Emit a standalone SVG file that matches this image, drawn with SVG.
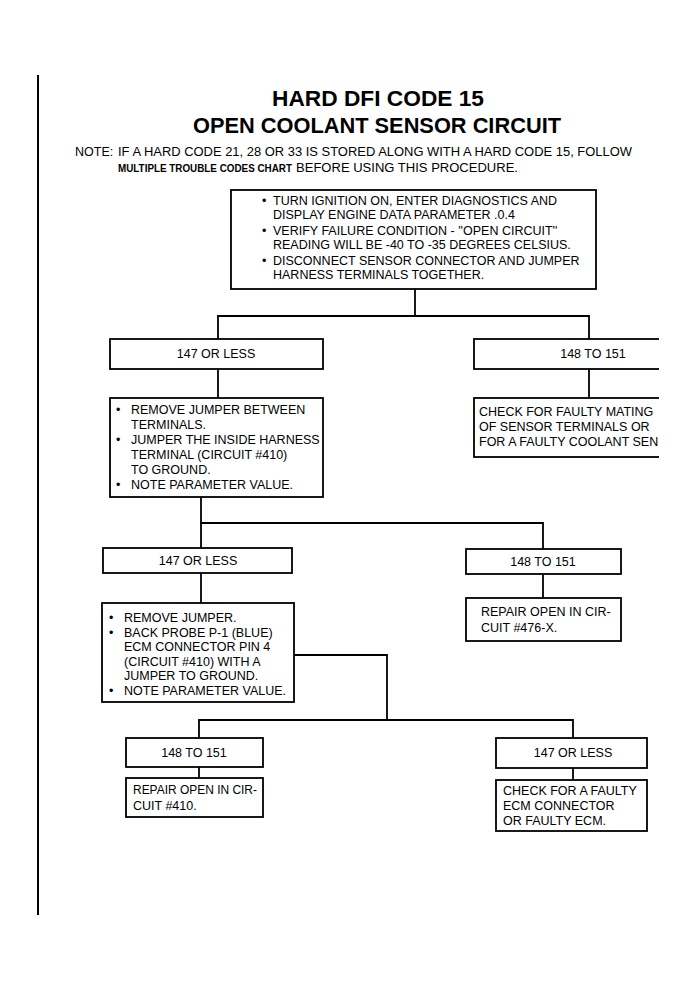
<svg xmlns="http://www.w3.org/2000/svg" width="698" height="992" viewBox="0 0 698 992">
<style>
text{font-family:"Liberation Sans",Arial,sans-serif;fill:#000}
.t{font-size:12.5px}
.c{text-anchor:middle}
.ttl{font-size:22px;font-weight:bold;text-anchor:middle}
.box{fill:#fff;stroke:#000;stroke-width:1.8}
.ln{fill:none;stroke:#000;stroke-width:1.8}
</style>
<defs><clipPath id="pg"><rect x="0" y="0" width="659" height="992"/></clipPath></defs>
<rect width="698" height="992" fill="#fff"/>
<line x1="38" y1="75" x2="38" y2="915" stroke="#000" stroke-width="2"/>
<g id="title">
<text class="ttl" x="378" y="106" textLength="212" lengthAdjust="spacingAndGlyphs">HARD DFI CODE 15</text>
<text class="ttl" x="377" y="133" textLength="368" lengthAdjust="spacingAndGlyphs">OPEN COOLANT SENSOR CIRCUIT</text>
<text class="t" x="75" y="156">NOTE:</text>
<text class="t" x="118" y="156" textLength="514" lengthAdjust="spacingAndGlyphs">IF A HARD CODE 21, 28 OR 33 IS STORED ALONG WITH A HARD CODE 15, FOLLOW</text>
<text x="118" y="172" font-size="10.5px" font-weight="bold" textLength="174" lengthAdjust="spacingAndGlyphs">MULTIPLE TROUBLE CODES CHART</text>
<text class="t" x="296" y="172" textLength="222" lengthAdjust="spacingAndGlyphs">BEFORE USING THIS PROCEDURE.</text>
</g>
<g id="connectors">
<polyline class="ln" points="415,289 415,316"/>
<polyline class="ln" points="218,339 218,316 589,316 589,339"/>
<line class="ln" x1="218" y1="369" x2="218" y2="398"/>
<line class="ln" x1="589" y1="369" x2="589" y2="398"/>
<line class="ln" x1="201" y1="497" x2="201" y2="523"/>
<polyline class="ln" points="201,548 201,523 543,523 543,549"/>
<line class="ln" x1="201" y1="573" x2="201" y2="603"/>
<line class="ln" x1="543" y1="574" x2="543" y2="598"/>
<polyline class="ln" points="294,655 387,655 387,720"/>
<polyline class="ln" points="199,738 199,720 573,720 573,738"/>
<line class="ln" x1="199" y1="767" x2="199" y2="778"/>
<line class="ln" x1="573" y1="768" x2="573" y2="780"/>
</g>
<g id="n1">
<rect class="box" x="231" y="190" width="365" height="99"/>
<text class="t" x="262" y="205">•</text>
<text class="t" x="273" y="205">TURN IGNITION ON, ENTER DIAGNOSTICS AND</text>
<text class="t" x="273" y="219">DISPLAY ENGINE DATA PARAMETER .0.4</text>
<text class="t" x="262" y="235">•</text>
<text class="t" x="273" y="235">VERIFY FAILURE CONDITION - ''OPEN CIRCUIT''</text>
<text class="t" x="273" y="249">READING WILL BE -40 TO -35 DEGREES CELSIUS.</text>
<text class="t" x="262" y="265">•</text>
<text class="t" x="273" y="265">DISCONNECT SENSOR CONNECTOR AND JUMPER</text>
<text class="t" x="273" y="279">HARNESS TERMINALS TOGETHER.</text>
</g>
<g id="n2">
<rect class="box" x="110" y="339" width="213" height="30"/>
<text class="t c" x="216" y="358">147 OR LESS</text>
</g>
<g id="n3" clip-path="url(#pg)">
<rect class="box" x="474" y="339" width="200" height="30"/>
<text class="t c" x="593" y="358">148 TO 151</text>
</g>
<g id="n4">
<rect class="box" x="110" y="398" width="213" height="99"/>
<text class="t" x="116" y="414">•</text>
<text class="t" x="131" y="414">REMOVE JUMPER BETWEEN</text>
<text class="t" x="131" y="429">TERMINALS.</text>
<text class="t" x="116" y="444">•</text>
<text class="t" x="131" y="444">JUMPER THE INSIDE HARNESS</text>
<text class="t" x="131" y="459">TERMINAL (CIRCUIT #410)</text>
<text class="t" x="131" y="474">TO GROUND.</text>
<text class="t" x="116" y="489">•</text>
<text class="t" x="131" y="489">NOTE PARAMETER VALUE.</text>
</g>
<g id="n5" clip-path="url(#pg)">
<rect class="box" x="474" y="398" width="200" height="59"/>
<text class="t" x="479" y="416">CHECK FOR FAULTY MATING</text>
<text class="t" x="479" y="431">OF SENSOR TERMINALS OR</text>
<text class="t" x="479" y="446">FOR A FAULTY COOLANT SEN</text>
</g>
<g id="n6">
<rect class="box" x="103" y="548" width="189" height="25"/>
<text class="t c" x="198" y="565">147 OR LESS</text>
</g>
<g id="n7">
<rect class="box" x="466" y="549" width="155" height="25"/>
<text class="t c" x="543" y="566">148 TO 151</text>
</g>
<g id="n8">
<rect class="box" x="102" y="603" width="192" height="99"/>
<text class="t" x="109" y="622">•</text>
<text class="t" x="124" y="622">REMOVE JUMPER.</text>
<text class="t" x="109" y="637">•</text>
<text class="t" x="124" y="637">BACK PROBE P-1 (BLUE)</text>
<text class="t" x="124" y="651">ECM CONNECTOR PIN 4</text>
<text class="t" x="124" y="666">(CIRCUIT #410) WITH A</text>
<text class="t" x="124" y="680">JUMPER TO GROUND.</text>
<text class="t" x="109" y="695">•</text>
<text class="t" x="124" y="695">NOTE PARAMETER VALUE.</text>
</g>
<g id="n9">
<rect class="box" x="466" y="598" width="155" height="43"/>
<text class="t" x="481" y="616">REPAIR OPEN IN CIR-</text>
<text class="t" x="481" y="632">CUIT #476-X.</text>
</g>
<g id="n10">
<rect class="box" x="126" y="738" width="137" height="29"/>
<text class="t c" x="194" y="757">148 TO 151</text>
</g>
<g id="n11">
<rect class="box" x="496" y="738" width="151" height="30"/>
<text class="t c" x="573" y="757">147 OR LESS</text>
</g>
<g id="n12">
<rect class="box" x="126" y="778" width="137" height="39"/>
<text class="t" x="133" y="794" textLength="124" lengthAdjust="spacingAndGlyphs">REPAIR OPEN IN CIR-</text>
<text class="t" x="133" y="810">CUIT #410.</text>
</g>
<g id="n13">
<rect class="box" x="496" y="780" width="151" height="51"/>
<text class="t" x="503" y="795">CHECK FOR A FAULTY</text>
<text class="t" x="503" y="810">ECM CONNECTOR</text>
<text class="t" x="503" y="825">OR FAULTY ECM.</text>
</g>
</svg>
